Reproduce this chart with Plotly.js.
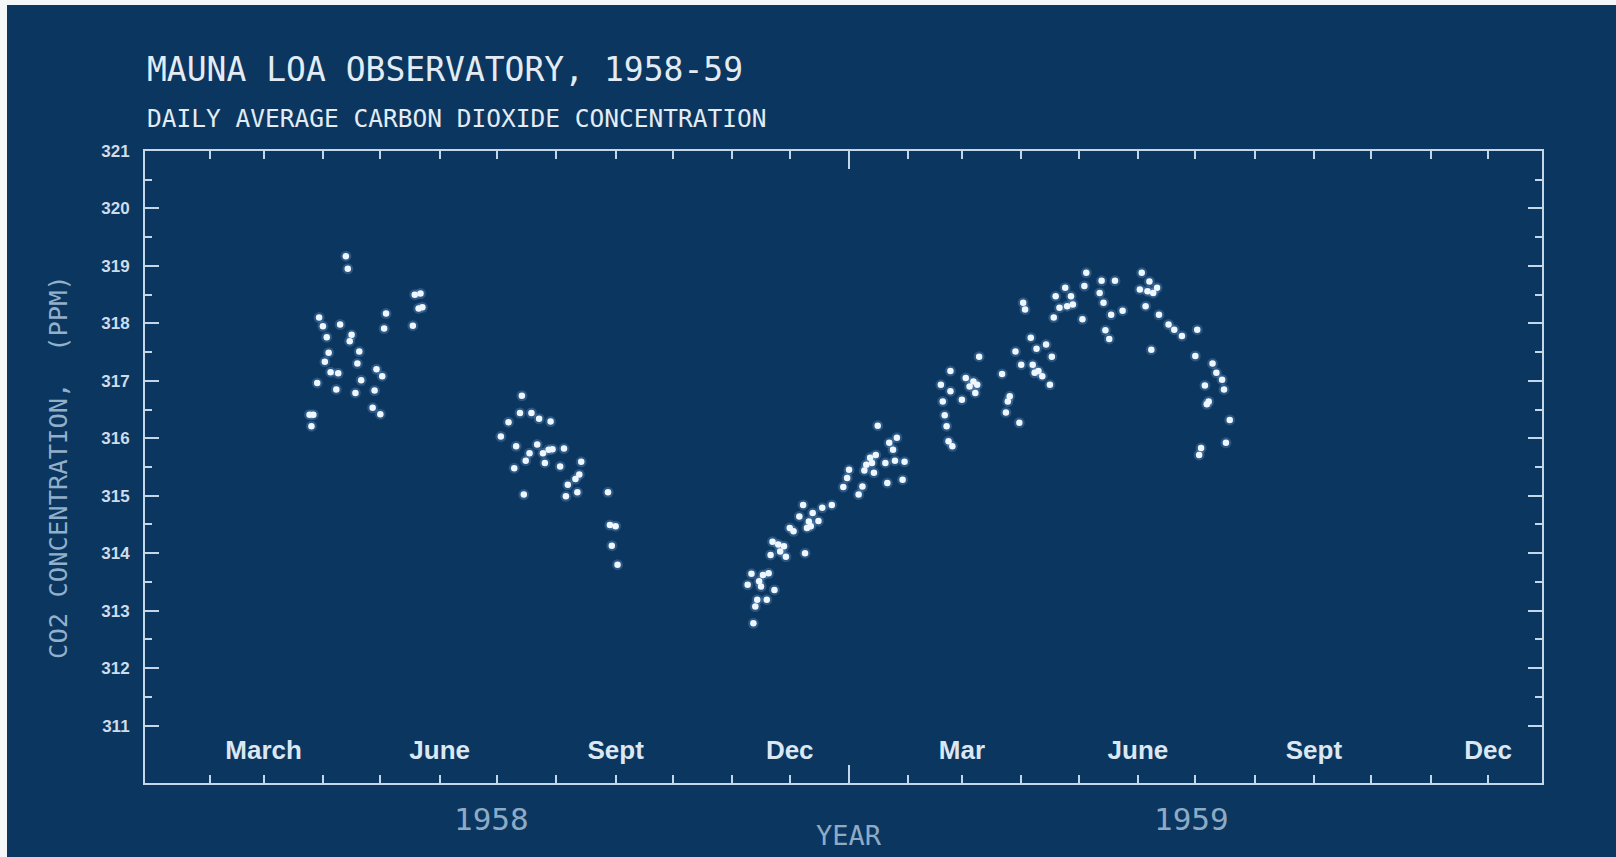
<!DOCTYPE html>
<html>
<head>
<meta charset="utf-8">
<script src="https://cdn.plot.ly/plotly-3.0.1.min.js"></script>
<style>
html, body { margin: 0; padding: 0; background: #f4f6f8; overflow: hidden; }
#chart { position: absolute; left: 7px; top: 5px; width: 1609px; height: 852px; }
</style>
</head>
<body>
<div id="chart"></div>
<script>
// ---- Data: daily average CO2 (ppm), Mauna Loa 1958-59 ----
const spring1958Dates = ['1958-04-13','1958-04-14','1958-05-19','1958-05-22','1958-05-21','1958-05-23','1958-03-30','1958-04-01','1958-04-10','1958-05-04','1958-05-03','1958-05-18','1958-04-03','1958-04-15','1958-04-16','1958-04-04','1958-04-20','1958-04-02','1958-04-19','1958-04-05','1958-04-09','1958-04-29','1958-05-02','1958-03-29','1958-04-21','1958-04-08','1958-04-18','1958-04-28','1958-04-27','1958-05-01','1958-03-25','1958-03-27','1958-03-26'];
const spring1958Ppm = [319.17,318.95,318.50,318.52,318.26,318.28,318.10,317.95,317.98,318.17,317.91,317.96,317.76,317.69,317.80,317.49,317.51,317.33,317.30,317.15,317.13,317.20,317.08,316.96,317.01,316.85,316.79,316.83,316.53,316.42,316.41,316.41,316.21];

const summer1958Dates = ['1958-07-14','1958-07-13','1958-07-19','1958-07-23','1958-07-29','1958-07-07','1958-07-03','1958-07-11','1958-07-22','1958-07-18','1958-07-25','1958-07-28','1958-07-30','1958-08-05','1958-07-16','1958-07-26','1958-07-10','1958-08-03','1958-08-14','1958-08-11','1958-08-13','1958-08-07','1958-07-15','1958-08-06','1958-08-12','1958-08-28','1958-08-29','1958-09-01','1958-08-30','1958-09-02'];
const summer1958Ppm = [316.74,316.44,316.44,316.34,316.29,316.28,316.03,315.86,315.89,315.74,315.74,315.80,315.81,315.82,315.61,315.57,315.48,315.51,315.59,315.29,315.37,315.19,315.02,314.99,315.06,315.06,314.49,314.47,314.13,313.80];

const winter1958Dates = ['1959-01-16','1959-01-26','1959-01-22','1959-01-24','1959-01-15','1959-01-12','1959-01-10','1959-01-13','1959-01-20','1959-01-25','1959-01-30','1959-01-01','1958-12-31','1959-01-09','1959-01-14','1959-01-21','1959-01-29','1958-12-29','1959-01-08','1959-01-06','1958-12-23','1958-12-08','1958-12-18','1958-12-13','1958-12-06','1958-12-11','1958-12-16','1958-12-01','1958-12-03','1958-12-10','1958-12-12','1958-11-22','1958-11-25','1958-11-28','1958-11-21','1958-11-29','1958-11-26','1958-12-09','1958-11-11','1958-11-17','1958-11-20','1958-11-15','1958-11-16','1958-11-09','1958-11-23','1958-11-14','1958-11-13','1958-11-19','1958-11-12'];
const winter1958Ppm = [316.22,316.01,315.92,315.80,315.71,315.66,315.54,315.57,315.57,315.61,315.59,315.45,315.31,315.44,315.40,315.22,315.28,315.15,315.16,315.02,314.84,314.84,314.79,314.70,314.64,314.55,314.56,314.44,314.38,314.44,314.47,314.20,314.15,314.12,313.97,313.94,314.03,314.00,313.64,313.62,313.65,313.51,313.42,313.45,313.36,313.19,313.07,313.19,312.78];

const spring1959Dates = ['1959-02-24','1959-02-22','1959-02-21','1959-02-20','1959-02-19','1959-02-18','1959-02-23','1959-02-23','1959-03-01','1959-03-03','1959-03-07','1959-03-05','1959-03-09','1959-03-08','1959-03-10','1959-03-22','1959-03-26','1959-03-25','1959-03-24','1959-03-31','1959-03-29','1959-04-01','1959-04-06','1959-04-02','1959-04-03','1959-04-07','1959-04-09','1959-04-14','1959-04-17','1959-04-08','1959-04-12','1959-04-10','1959-04-16','1959-04-19','1959-04-24','1959-04-21','1959-04-27','1959-04-25','1959-04-28','1959-04-18','1959-05-05','1959-05-04','1959-05-03','1959-05-13','1959-05-12','1959-05-14','1959-05-20','1959-05-18','1959-05-24','1959-05-15','1959-05-17','1959-06-03','1959-06-07','1959-06-02','1959-06-06','1959-06-11','1959-06-09','1959-06-05','1959-06-12','1959-06-17','1959-06-20','1959-06-24','1959-07-02','1959-06-08','1959-07-01','1959-07-10','1959-07-12','1959-07-15','1959-07-16','1959-07-06','1959-07-08','1959-07-07','1959-07-19','1959-07-17','1959-07-04','1959-07-03'];
const spring1959Ppm = [315.86,315.95,316.21,316.40,316.64,316.93,317.17,316.82,316.67,317.05,316.99,316.90,316.93,316.79,317.42,317.12,316.73,316.64,316.45,316.27,317.51,317.28,317.75,318.36,318.24,317.28,317.56,317.63,317.42,317.14,317.08,317.17,316.93,318.47,318.62,318.27,318.47,318.30,318.33,318.10,318.88,318.65,318.07,318.74,318.53,318.36,318.74,318.15,318.22,317.88,317.73,318.88,318.73,318.59,318.56,318.62,318.53,318.30,318.15,317.98,317.89,317.78,317.89,317.54,317.43,317.30,317.14,317.02,316.85,316.92,316.64,316.59,316.32,315.92,315.83,315.71];

// ---- Axis tick positions and labels ----
const monthTickDates = ['1958-02-01','1958-03-01','1958-04-01','1958-05-01','1958-06-01','1958-07-01','1958-08-01','1958-09-01','1958-10-01','1958-11-01','1958-12-01',
                        '1959-02-01','1959-03-01','1959-04-01','1959-05-01','1959-06-01','1959-07-01','1959-08-01','1959-09-01','1959-10-01','1959-11-01','1959-12-01'];
const monthTickLabels = ['','March','','','June','','','Sept','','','Dec',
                         '','Mar','','','June','','','Sept','','','Dec'];
const yearBoundaryDates = ['1959-01-01'];
const yearLabelDates = ['1958-06-28','1959-06-29'];
const yearLabels = ['1958','1959'];
const ppmTickVals = [311,312,313,314,315,316,317,318,319,320,321];
const ppmTickLabels = ['311','312','313','314','315','316','317','318','319','320','321'];

const allDates = [].concat(spring1958Dates, summer1958Dates, winter1958Dates, spring1959Dates);
const allPpm = [].concat(spring1958Ppm, summer1958Ppm, winter1958Ppm, spring1959Ppm);

const bg = '#0b365f';
const frame = '#c3d7e8';
const monoFont = 'DejaVu Sans Mono, monospace';

const traces = [
  { type: 'scatter', mode: 'markers', x: allDates, y: allPpm, hoverinfo: 'skip',
    marker: { size: 11, color: 'rgba(150,200,255,0.22)', line: { width: 0 } } },
  { type: 'scatter', mode: 'markers', x: allDates, y: allPpm, hoverinfo: 'skip',
    marker: { size: 6.5, color: '#eef6ff', line: { width: 0 } } }
];

const annotations = [
  { text: 'DAILY AVERAGE CARBON DIOXIDE CONCENTRATION', xref: 'paper', yref: 'paper',
    x: 0, y: 1, xanchor: 'left', yanchor: 'middle', yshift: 33, showarrow: false,
    font: { family: monoFont, size: 24.5, color: '#e3ecf5' } },
  { text: 'YEAR', xref: 'x', yref: 'paper', x: yearBoundaryDates[0], y: 0, yshift: -52,
    xanchor: 'center', yanchor: 'middle', showarrow: false,
    font: { family: monoFont, size: 27, color: '#8eabc6' } }
];
yearLabels.forEach(function (lab, i) {
  annotations.push({ text: lab, x: yearLabelDates[i], xref: 'x', yref: 'paper', y: 0, yshift: -36,
    xanchor: 'center', yanchor: 'middle', showarrow: false,
    font: { family: monoFont, size: 31, color: '#8eabc6' } });
});

const layout = {
  width: 1609, height: 852,
  paper_bgcolor: bg, plot_bgcolor: bg,
  margin: { l: 138, r: 74, t: 146, b: 74, pad: 0 },
  showlegend: false,
  title: { text: 'MAUNA LOA OBSERVATORY, 1958-59', xref: 'container', yref: 'container',
    x: 140 / 1609, xanchor: 'left', y: 1 - 64 / 852, yanchor: 'middle',
    font: { family: monoFont, size: 33, color: '#e3ecf5' } },
  xaxis: {
    type: 'date', range: ['1957-12-29', '1959-12-29 05:00'], fixedrange: true,
    tickmode: 'array', tickvals: monthTickDates, ticktext: monthTickLabels,
    ticks: 'inside', ticklen: 8, tickwidth: 2, tickcolor: frame,
    showline: true, linecolor: frame, linewidth: 2, mirror: 'ticks',
    showgrid: false, zeroline: false,
    ticklabelposition: 'inside', ticklabelstandoff: 13,
    tickfont: { family: 'Liberation Sans, Arial, sans-serif', size: 26, color: '#dbe7f2', weight: 'bold' },
    minor: { tickmode: 'array', tickvals: yearBoundaryDates, ticks: 'inside', ticklen: 18, tickwidth: 2, tickcolor: frame, showgrid: false }
  },
  yaxis: {
    range: [310, 321], fixedrange: true,
    tickmode: 'array', tickvals: ppmTickVals, ticktext: ppmTickLabels,
    ticks: 'inside', ticklen: 14, tickwidth: 2, tickcolor: frame,
    showline: true, linecolor: frame, linewidth: 2, mirror: 'ticks',
    showgrid: false, zeroline: false, ticklabelstandoff: 10,
    tickfont: { family: 'Liberation Sans, Arial, sans-serif', size: 17, color: '#cfdcea', weight: 'bold' },
    minor: { dtick: 0.5, tick0: 310, ticks: 'inside', ticklen: 7, tickwidth: 2, tickcolor: frame, showgrid: false },
    title: { text: 'CO2 CONCENTRATION,  (PPM)', standoff: 26, font: { family: monoFont, size: 25.5, color: '#93b0ca' } }
  },
  annotations: annotations
};

Plotly.newPlot('chart', traces, layout, { displayModeBar: false, staticPlot: true });
</script>
</body>
</html>
